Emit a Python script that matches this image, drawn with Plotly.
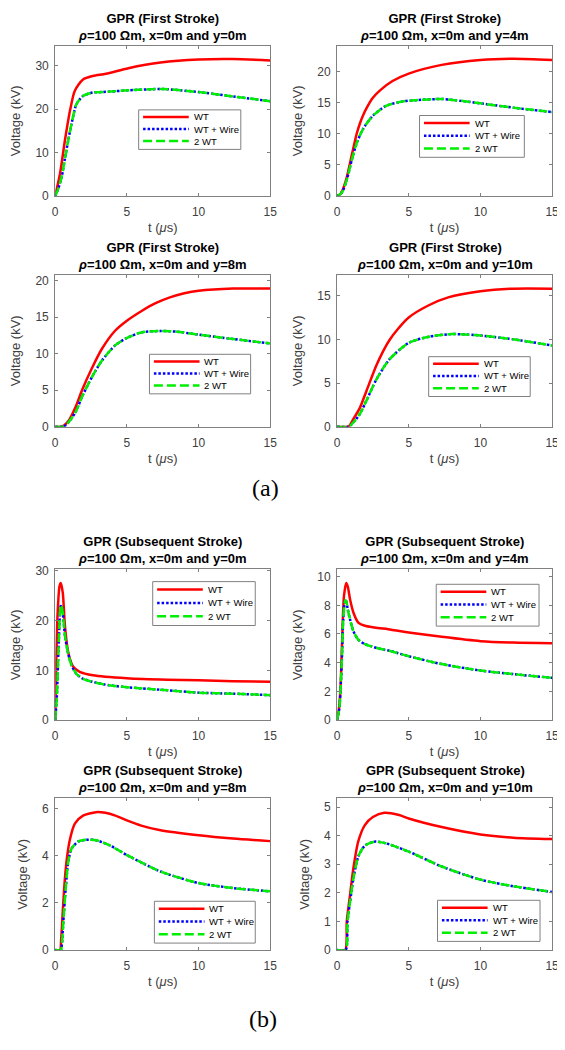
import plotly.graph_objects as go

# the page is rendered with an 8px body margin on every side
OFF = 8
W, H = 565 - OFF, 1050 - 2 * OFF

# ---------------- data ----------------
x_ticks = [0, 5, 10, 15]
series_names = ["WT", "WT + Wire", "2 WT"]
locations = ["y=0m", "y=4m", "y=8m", "y=10m"]

# First stroke, y = 0 m
t_fs0_wt = [0, 0.34, 0.68, 1.03, 1.37, 1.94, 2.63, 3.54, 5.1, 7.35, 10, 12.4, 15]
v_fs0_wt = [0, 5.2, 12.8, 19.6, 24.2, 26.8, 27.6, 28.1, 29.4, 30.7, 31.4, 31.5, 31.2]
t_fs0_wire = [0, 0.2, 0.46, 0.68, 0.91, 1.14, 1.48, 1.94, 2.63, 3.3, 5.1, 7.5, 10, 12.4, 15]
v_fs0_wire = [0, 1.5, 4.5, 8.6, 12.8, 16.6, 21.1, 23.0, 23.8, 23.9, 24.3, 24.6, 23.9, 22.9, 21.8]
v_fs0_2wt = [0, 1.5, 4.5, 8.6, 12.8, 16.6, 21.1, 23.0, 23.8, 23.9, 24.3, 24.6, 23.9, 22.9, 21.8]

# First stroke, y = 4 m
t_fs4_wt = [0, 0.2, 0.34, 0.68, 1.03, 1.37, 1.6, 1.82, 2.05, 2.5, 3.0, 3.87, 5, 7.3, 10, 12.3, 15]
v_fs4_wt = [0, 0.2, 0.7, 3.0, 6.6, 10.0, 11.7, 13.0, 14.1, 15.8, 17.0, 18.5, 19.7, 21.1, 21.9, 22.1, 21.9]
t_fs4_wire = [0, 0.2, 0.4, 0.68, 1.03, 1.37, 1.82, 2.5, 3.42, 4.56, 5.47, 7.3, 8.66, 10, 12.3, 15]
v_fs4_wire = [0, 0.2, 0.8, 2.6, 5.8, 8.5, 10.8, 12.9, 14.5, 15.2, 15.4, 15.6, 15.3, 14.9, 14.2, 13.5]
v_fs4_2wt = [0, 0.2, 0.8, 2.6, 5.8, 8.5, 10.8, 12.9, 14.5, 15.2, 15.4, 15.6, 15.3, 14.9, 14.2, 13.5]

# First stroke, y = 8 m
t_fs8_wt = [0, 0.5, 0.96, 1.42, 1.87, 2.56, 3.24, 4.16, 5, 6, 7, 8, 9, 10, 12.4, 15]
v_fs8_wt = [0, 0.05, 0.9, 2.7, 5.0, 8.0, 10.6, 13.1, 14.5, 15.8, 16.9, 17.7, 18.25, 18.6, 18.9, 18.9]
t_fs8_wire = [0, 0.6, 0.96, 1.42, 1.87, 2.56, 3.24, 4.16, 4.95, 6.0, 7.35, 8.5, 10, 12.4, 15]
v_fs8_wire = [0, 0.05, 0.7, 2.0, 4.1, 6.8, 9.0, 11.1, 12.1, 12.9, 13.1, 13.0, 12.6, 12.0, 11.4]
v_fs8_2wt = [0, 0.05, 0.7, 2.0, 4.1, 6.8, 9.0, 11.1, 12.1, 12.9, 13.1, 13.0, 12.6, 12.0, 11.4]

# First stroke, y = 10 m
t_fs10_wt = [0, 0.8, 1.14, 1.6, 2.05, 2.74, 3.2, 3.65, 4.2, 5, 6.4, 7.75, 10, 12.3, 15]
v_fs10_wt = [0, 0.05, 0.9, 2.2, 4.1, 7.0, 8.6, 9.9, 11.1, 12.5, 13.9, 14.8, 15.5, 15.8, 15.8]
t_fs10_wire = [0, 0.8, 1.03, 1.6, 2.05, 2.74, 3.65, 5, 6.4, 7.98, 9.6, 12.3, 15]
v_fs10_wire = [0, 0.02, 0.3, 1.5, 3.0, 5.4, 7.7, 9.6, 10.3, 10.6, 10.5, 10.0, 9.3]
v_fs10_2wt = [0, 0.02, 0.3, 1.5, 3.0, 5.4, 7.7, 9.6, 10.3, 10.6, 10.5, 10.0, 9.3]

# Subsequent stroke, y = 0 m
t_ss0_wt = [0, 0.07, 0.16, 0.3, 0.39, 0.53, 0.68, 0.91, 1.26, 1.71, 2.63, 5.0, 7.8, 10, 12.4, 15]
v_ss0_wt = [0, 11, 20.9, 26.9, 27.6, 25.6, 18.9, 13.6, 10.7, 9.7, 9.0, 8.4, 8.1, 8.0, 7.8, 7.7]
t_ss0_wire = [0, 0.11, 0.23, 0.34, 0.41, 0.53, 0.68, 0.91, 1.14, 1.48, 1.94, 2.85, 3.77, 5.0, 7.8, 10, 12.4, 15]
v_ss0_wire = [0, 4.4, 14.3, 21.6, 23.2, 21.6, 17.0, 13.3, 11.0, 9.3, 8.3, 7.5, 7.0, 6.6, 6.0, 5.5, 5.3, 5.0]
v_ss0_2wt = [0, 4.4, 14.3, 21.6, 23.2, 21.6, 17.0, 13.3, 11.0, 9.3, 8.3, 7.5, 7.0, 6.6, 6.0, 5.5, 5.3, 5.0]

# Subsequent stroke, y = 4 m
t_ss4_wt = [0, 0.11, 0.23, 0.3, 0.39, 0.48, 0.64, 0.75, 0.91, 1.14, 1.48, 1.94, 2.63, 3.77, 5.0, 7.3, 10, 12.3, 15]
v_ss4_wt = [0, 0.6, 1.96, 3.8, 6.6, 8.6, 9.56, 9.3, 8.4, 7.5, 6.8, 6.57, 6.45, 6.3, 6.1, 5.8, 5.5, 5.4, 5.36]
t_ss4_wire = [0, 0.16, 0.27, 0.34, 0.43, 0.57, 0.64, 0.75, 0.91, 1.14, 1.48, 1.94, 2.85, 3.77, 5.0, 7.3, 10, 12.3, 15]
v_ss4_wire = [0, 0.8, 2.65, 4.3, 7.0, 8.35, 8.3, 7.7, 7.0, 6.2, 5.6, 5.3, 5.0, 4.8, 4.45, 3.9, 3.45, 3.2, 2.94]
v_ss4_2wt = [0, 0.8, 2.65, 4.3, 7.0, 8.35, 8.3, 7.7, 7.0, 6.2, 5.6, 5.3, 5.0, 4.8, 4.45, 3.9, 3.45, 3.2, 2.94]

# Subsequent stroke, y = 8 m
t_ss8_wt = [0, 0.34, 0.41, 0.53, 0.68, 0.84, 1.03, 1.37, 1.94, 2.85, 3.5, 4.2, 5.0, 6.0, 7.35, 10, 12.4, 15]
v_ss8_wt = [0, 0.0, 0.4, 1.65, 3.05, 4.0, 4.7, 5.36, 5.7, 5.85, 5.82, 5.7, 5.5, 5.28, 5.08, 4.87, 4.73, 4.62]
t_ss8_wire = [0, 0.4, 0.46, 0.57, 0.73, 0.91, 1.14, 1.6, 2.17, 2.85, 3.77, 5.0, 7.35, 10, 12.4, 15]
v_ss8_wire = [0, 0.0, 0.2, 1.23, 2.6, 3.75, 4.3, 4.6, 4.68, 4.66, 4.45, 4.03, 3.33, 2.84, 2.63, 2.49]
v_ss8_2wt = [0, 0.0, 0.2, 1.23, 2.6, 3.75, 4.3, 4.6, 4.68, 4.66, 4.45, 4.03, 3.33, 2.84, 2.63, 2.49]

# Subsequent stroke, y = 10 m
t_ss10_wt = [0, 0.57, 0.68, 0.91, 1.14, 1.48, 1.94, 2.5, 3.3, 4.33, 5.0, 7.3, 10, 12.3, 15]
v_ss10_wt = [0, 0.0, 1.0, 1.94, 2.86, 3.8, 4.37, 4.65, 4.8, 4.72, 4.6, 4.3, 4.04, 3.93, 3.88]
t_ss10_wire = [0, 0.6, 0.73, 0.91, 1.14, 1.48, 1.94, 2.62, 3.42, 5.0, 7.3, 10, 12.3, 15]
v_ss10_wire = [0, 0.0, 1.0, 1.7, 2.5, 3.27, 3.65, 3.79, 3.73, 3.44, 2.92, 2.46, 2.23, 2.03]
v_ss10_2wt = [0, 0.0, 1.0, 1.7, 2.5, 3.27, 3.65, 3.79, 3.73, 3.44, 2.92, 2.46, 2.23, 2.03]

# y-axis upper limits and tick steps
y_max = [34.6, 24.2, 20.8, 17.4, 30.3, 10.5, 6.43, 5.3]
y_dtick = [10, 5, 5, 5, 10, 2, 2, 1]

panels = [
    ("First Stroke", locations[0], t_fs0_wt, v_fs0_wt, t_fs0_wire, v_fs0_wire, v_fs0_2wt),
    ("First Stroke", locations[1], t_fs4_wt, v_fs4_wt, t_fs4_wire, v_fs4_wire, v_fs4_2wt),
    ("First Stroke", locations[2], t_fs8_wt, v_fs8_wt, t_fs8_wire, v_fs8_wire, v_fs8_2wt),
    ("First Stroke", locations[3], t_fs10_wt, v_fs10_wt, t_fs10_wire, v_fs10_wire, v_fs10_2wt),
    ("Subsequent Stroke", locations[0], t_ss0_wt, v_ss0_wt, t_ss0_wire, v_ss0_wire, v_ss0_2wt),
    ("Subsequent Stroke", locations[1], t_ss4_wt, v_ss4_wt, t_ss4_wire, v_ss4_wire, v_ss4_2wt),
    ("Subsequent Stroke", locations[2], t_ss8_wt, v_ss8_wt, t_ss8_wire, v_ss8_wire, v_ss8_2wt),
    ("Subsequent Stroke", locations[3], t_ss10_wt, v_ss10_wt, t_ss10_wire, v_ss10_wire, v_ss10_2wt),
]

# ---------------- layout geometry (page pixels) ----------------
col_px = [(53, 272), (340, 559)]
row_px = [(41, 193), (272.7, 426.7), (571, 723.3), (802.7, 956)]
# legend boxes (left, top, right, bottom) in page px
legend_px = [
    (138, 106, 242, 146), (424, 111.7, 530.7, 154),
    (149, 353.3, 252, 393.3), (433.3, 355.7, 536.7, 396),
    (152.3, 583.3, 256.7, 627.7), (441, 586, 545.7, 628.3),
    (154, 906.7, 256.7, 949), (442.3, 905.7, 546.7, 947.3),
]

def px(x):
    return (x - OFF) / W

def py(y):
    return 1 - (y - OFF) / H

styles = [
    dict(color="#ff0000", width=2.5, dash="solid"),
    dict(color="#0000ff", width=2.5, dash="2.5px,2px"),
    dict(color="#00ee00", width=2.5, dash="9px,4px"),
]

FONT = "Liberation Sans, Arial, sans-serif"
AX_COL = "#808080"
TXT_COL = "#404040"

fig = go.Figure()
annotations = []
shapes = []

for i, (stroke, loc, t_wt, v_wt, t_wi, v_wi, v_2w) in enumerate(panels):
    k = i + 1
    r, c = divmod(i, 2)
    xa = "x" if k == 1 else f"x{k}"
    ya = "y" if k == 1 else f"y{k}"
    data = [(t_wt, v_wt), (t_wi, v_wi), (t_wi, v_2w)]
    for (tt, vv), name, st in zip(data, series_names, styles):
        fig.add_trace(go.Scatter(
            x=tt, y=vv, mode="lines", name=name, showlegend=False,
            line=dict(color=st["color"], width=st["width"], dash=st["dash"],
                      shape="spline", smoothing=0.7),
            xaxis=xa, yaxis=ya, hoverinfo="skip"))

    x0, x1 = col_px[c]
    y0, y1 = row_px[r]
    axis_common = dict(
        showline=True, linecolor=AX_COL, linewidth=1, mirror="ticks",
        ticks="inside", ticklen=3, tickcolor=AX_COL, tickwidth=1,
        showgrid=False, zeroline=False,
        tickfont=dict(family=FONT, size=12, color=TXT_COL),
    )
    fig.layout[f"xaxis{k}"] = dict(
        axis_common, domain=[px(x0), px(x1)], anchor=ya, range=[0, 15],
        tickvals=x_ticks, ticklabelstandoff=5,
        title=dict(text="t (<i>μ</i>s)", font=dict(family=FONT, size=13, color=TXT_COL), standoff=4),
    )
    fig.layout[f"yaxis{k}"] = dict(
        axis_common, domain=[py(y1), py(y0)], anchor=xa, range=[0, y_max[i]],
        tick0=0, dtick=y_dtick[i], ticklabelstandoff=3,
        title=dict(text="Voltage (kV)", font=dict(family=FONT, size=13, color=TXT_COL), standoff=11),
    )

    # two-line bold title
    annotations.append(dict(
        x=px((x0 + x1) / 2), y=py(y0), xref="paper", yref="paper",
        xanchor="center", yanchor="bottom", yshift=1, showarrow=False,
        text=f"<b>GPR ({stroke})</b><br><b><i>ρ</i>=100 Ωm, x=0m and {loc}</b>",
        font=dict(family=FONT, size=13, color="#000000"), align="center",
    ))

    # legend box drawn inside the axes
    L, T, R, B = legend_px[i]
    shapes.append(dict(type="rect", xref="paper", yref="paper",
                       x0=px(L), x1=px(R), y0=py(B), y1=py(T),
                       line=dict(color=AX_COL, width=1), fillcolor="white", layer="above"))
    hgt = B - T
    for j, (name, st) in enumerate(zip(series_names, styles)):
        yc = T + hgt * (0.18 + 0.305 * j)
        shapes.append(dict(type="line", xref="paper", yref="paper",
                           x0=px(L + 4.5), x1=px(L + 51), y0=py(yc), y1=py(yc),
                           line=dict(color=st["color"], width=st["width"], dash=st["dash"]),
                           layer="above"))
        annotations.append(dict(
            x=px(L + 54), y=py(yc), xref="paper", yref="paper",
            xanchor="left", yanchor="middle", showarrow=False, text=name,
            font=dict(family=FONT, size=9.5, color="#000000"),
        ))

# sub-figure labels
SERIF = "Liberation Serif, Times New Roman, serif"
annotations.append(dict(x=px(267), y=py(489), xref="paper", yref="paper", showarrow=False,
                        xanchor="center", yanchor="middle",
                        text="(a)", font=dict(family=SERIF, size=24, color="#000")))
annotations.append(dict(x=px(265), y=py(1026), xref="paper", yref="paper", showarrow=False,
                        xanchor="center", yanchor="middle",
                        text="(b)", font=dict(family=SERIF, size=24, color="#000")))

fig.update_layout(
    width=W, height=H, margin=dict(l=0, r=0, t=0, b=0),
    paper_bgcolor="white", plot_bgcolor="white",
    showlegend=False, annotations=annotations, shapes=shapes,
)

fig.write_html("out.html")
